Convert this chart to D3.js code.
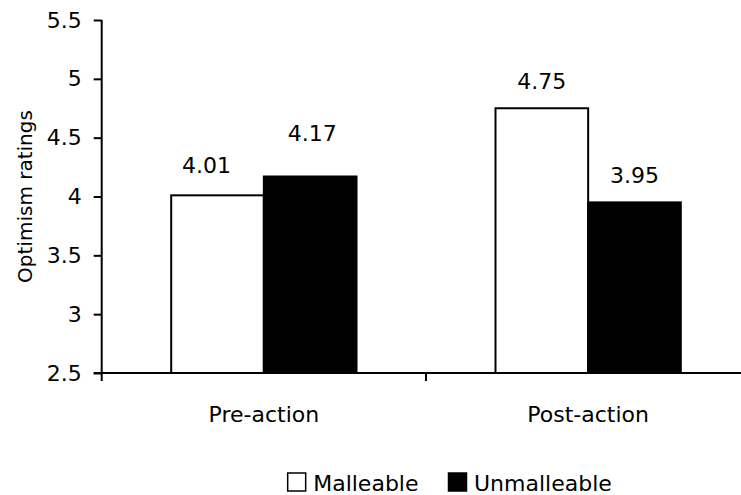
<!DOCTYPE html>
<html>
<head>
<meta charset="utf-8">
<script src="https://cdn.jsdelivr.net/npm/d3@7"></script>
<style>
  html, body { margin: 0; padding: 0; background: #fff; }
  svg { display: block; }
  text { font-family: "DejaVu Sans", Verdana, sans-serif; fill: #000; }
</style>
</head>
<body>
<svg id="chart" width="741" height="495"></svg>
<script>
const categories = ["Pre-action", "Post-action"];
const seriesNames = ["Malleable", "Unmalleable"];
const malleable = [4.01, 4.75];
const unmalleable = [4.17, 3.95];
const yTicks = [2.5, 3, 3.5, 4, 4.5, 5, 5.5];
const yTitle = "Optimism ratings";

const seriesValues = [malleable, unmalleable];
const seriesFill = ["#fff", "#000"];

const svg = d3.select("#chart");
const plot = { left: 101.7, right: 750.3, top: 20, bottom: 373 };

const x0 = d3.scaleBand().domain(categories).range([plot.left, plot.right]).paddingInner(0).paddingOuter(0);
const x1 = d3.scaleBand().domain(seriesNames).range([0, x0.bandwidth()]).paddingInner(0).paddingOuter(0.75);
const y = d3.scaleLinear().domain([2.5, 5.5]).range([plot.bottom, plot.top]);

// bars
const data = [];
categories.forEach((c, ci) => seriesNames.forEach((s, si) => data.push({ cat: c, ser: s, si, v: seriesValues[si][ci] })));

svg.append("g").selectAll("rect").data(data).join("rect")
  .attr("x", d => x0(d.cat) + x1(d.ser))
  .attr("y", d => y(d.v))
  .attr("width", x1.bandwidth())
  .attr("height", d => y(2.5) - y(d.v))
  .attr("fill", d => seriesFill[d.si])
  .attr("stroke", "#000")
  .attr("stroke-width", 2);

// data labels (hand-placed nudges as in the original chart)
const labelNudge = { "Pre-action|Malleable": [-11, -3], "Pre-action|Unmalleable": [2, -16] };
const nudge = d => labelNudge[d.cat + "|" + d.ser] || [0, 0];
svg.append("g").selectAll("text").data(data).join("text")
  .attr("x", d => x0(d.cat) + x1(d.ser) + x1.bandwidth() / 2 + nudge(d)[0])
  .attr("y", d => y(d.v) - 19 + nudge(d)[1])
  .attr("text-anchor", "middle")
  .style("font-size", "22px")
  .text(d => d3.format(".2f")(d.v));

// y axis
const yAxis = svg.append("g").attr("transform", `translate(${plot.left},0)`)
  .call(d3.axisLeft(y).tickValues(yTicks).tickFormat(d => String(d)).tickSize(8).tickPadding(12));
yAxis.select(".domain").attr("d", `M0,${plot.top}V${plot.bottom}`);
yAxis.selectAll("line, path").attr("stroke", "#000").attr("stroke-width", 2);
yAxis.selectAll("text").style("font-size", "22px").attr("font-family", null);

// x axis
const boundaries = [plot.left, plot.left + x0.bandwidth(), plot.right];
const xAxis = svg.append("g").attr("transform", `translate(0,${plot.bottom})`);
xAxis.append("line").attr("x1", plot.left - 8).attr("x2", plot.right).attr("y1", 0).attr("y2", 0)
  .attr("stroke", "#000").attr("stroke-width", 2);
xAxis.selectAll("line.tick").data(boundaries).join("line").attr("class", "tick")
  .attr("x1", d => d).attr("x2", d => d).attr("y1", 0).attr("y2", 8)
  .attr("stroke", "#000").attr("stroke-width", 2);
xAxis.selectAll("text").data(categories).join("text")
  .attr("x", d => x0(d) + x0.bandwidth() / 2)
  .attr("y", 48.7)
  .attr("text-anchor", "middle")
  .style("font-size", "22px")
  .text(d => d);

// y title
svg.append("text")
  .attr("transform", `translate(32,${(plot.top + plot.bottom) / 2}) rotate(-90)`)
  .attr("text-anchor", "middle")
  .style("font-size", "20px")
  .text(yTitle);

// legend
const legend = svg.append("g");
const lgY = 491;
const sq = 18;
const item2 = legend.append("g");
item2.append("rect").attr("x", 448.5).attr("y", lgY - sq).attr("width", sq).attr("height", sq).attr("fill", "#000").attr("stroke", "#000").attr("stroke-width", 1.5);
item2.append("text").attr("x", 474).attr("y", lgY).style("font-size", "22px").text(seriesNames[1]);
const item1 = legend.append("g");
const t1 = item1.append("text").attr("y", lgY).style("font-size", "22px").text(seriesNames[0]);
const w1 = t1.node().getComputedTextLength();
const t1x = 418.5 - w1;
t1.attr("x", t1x);
item1.append("rect").attr("x", t1x - 25.5).attr("y", lgY - sq).attr("width", sq).attr("height", sq).attr("fill", "#fff").attr("stroke", "#000").attr("stroke-width", 1.5);
</script>
</body>
</html>
